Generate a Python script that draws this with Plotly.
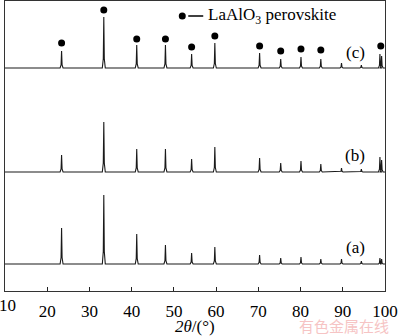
import plotly.graph_objects as go

# ---- data ----
peak_pos = [23.4, 33.4, 41.2, 48.0, 54.2, 59.7, 70.3, 75.3, 80.1, 84.8, 89.7, 94.4, 98.8, 99.2]
int_a = [36, 69, 30, 19, 11, 17, 9, 6, 7, 5, 5, 3, 6, 5]
int_b = [17, 50, 23, 23, 13, 25, 14, 9, 11, 8, 4, 3, 15, 12]
int_c = [17, 51, 23, 23, 14, 25, 15, 9, 11, 9, 5, 3, 14, 12]
offset_a, offset_b, offset_c = 27, 119, 223
sample_labels = ["(a)", "(b)", "(c)"]

dot_pos = [23.4, 33.4, 41.2, 48.0, 54.2, 59.7, 70.3, 75.3, 80.1, 84.8, 99.0]
dot_y = [248, 281, 252, 252, 244, 255, 245, 240, 242, 241, 245]

x_ticks = [20, 30, 40, 50, 60, 70, 80, 90, 100]
x_min, x_max = 10, 100

# peak profile template (style)
prof_dx = [-0.35, -0.12, 0.0, 0.12, 0.35]
prof_f = [0.0, 0.18, 1.0, 0.18, 0.0]


def pattern(pos, ints, off):
    xs, ys = [x_min], [off]
    for p, h in zip(pos, ints):
        for dx, f in zip(prof_dx, prof_f):
            xs.append(p + dx)
            ys.append(off + f * h)
    xs.append(x_max)
    ys.append(off)
    return xs, ys


FONT = "Liberation Serif"
fig = go.Figure()
for ints, off in [(int_a, offset_a), (int_b, offset_b), (int_c, offset_c)]:
    xs, ys = pattern(peak_pos, ints, off)
    fig.add_trace(go.Scatter(x=xs, y=ys, mode="lines",
                             line=dict(color="#1a1a1a", width=1.1), showlegend=False,
                             hoverinfo="skip"))

fig.add_trace(go.Scatter(x=dot_pos, y=dot_y, mode="markers",
                         marker=dict(color="black", size=7), showlegend=False))

L, R, T, B = 4.5, 385, 1, 291
W, H = R - L, B - T


def px(xp):
    return (xp - L) / W


def py(yp):
    return (B - yp) / H


fig.update_layout(
    width=400, height=336,
    margin=dict(l=L, r=400 - R, t=T, b=336 - B),
    paper_bgcolor="white", plot_bgcolor="white",
    font=dict(family=FONT, size=17, color="black"),
    xaxis=dict(range=[x_min, x_max], tickvals=x_ticks, ticks="inside", ticklen=4,
               tickcolor="#222", showgrid=False, zeroline=False, showline=True,
               linecolor="#333", linewidth=1.3, mirror=True, ticklabelstandoff=4,
               tickfont=dict(family=FONT, size=17)),
    yaxis=dict(range=[0, H], showticklabels=False, ticks="", showgrid=False,
               zeroline=False, showline=True, linecolor="#333", linewidth=1.3,
               mirror=True),
)

ann = []
ann.append(dict(text="10", x=px(7.5), y=py(305), xref="paper", yref="paper",
                showarrow=False, xanchor="center", yanchor="middle",
                font=dict(family=FONT, size=17)))
ann.append(dict(text="<i>2θ</i>/(°)", x=0.5, y=py(326), xref="paper", yref="paper",
                showarrow=False, xanchor="center", yanchor="middle",
                font=dict(family=FONT, size=17)))
for lab, yp in zip(sample_labels, [247, 155, 52]):
    ann.append(dict(text=lab, x=px(355), y=py(yp), xref="paper", yref="paper",
                    showarrow=False, xanchor="center", yanchor="middle",
                    font=dict(family=FONT, size=17)))
ann.append(dict(text="LaAlO<sub>3</sub> perovskite", x=px(206), y=py(16), xref="paper",
                yref="paper", showarrow=False, xanchor="left", yanchor="middle",
                font=dict(family=FONT, size=17)))
ann.append(dict(text="有色金属在线", x=px(344), y=py(325), xref="paper", yref="paper",
                showarrow=False, xanchor="center", yanchor="middle", borderpad=0,
                font=dict(family="Noto Sans CJK SC", size=15, color="#f6c4c4")))
fig.update_layout(annotations=ann)

fig.add_shape(type="circle", xref="paper", yref="paper", xsizemode="pixel",
              ysizemode="pixel", xanchor=px(182), yanchor=py(16),
              x0=-3.5, x1=3.5, y0=-3.5, y1=3.5,
              fillcolor="black", line=dict(color="black", width=0))
fig.add_shape(type="line", xref="paper", yref="paper", x0=px(188), x1=px(203),
              y0=py(16), y1=py(16), line=dict(color="black", width=1.5))

fig.write_html("out.html")
